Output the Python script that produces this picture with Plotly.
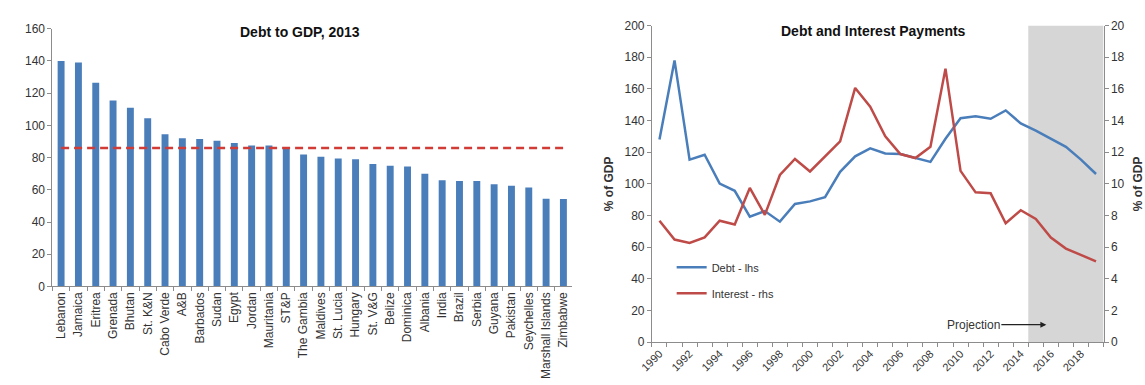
import plotly.graph_objects as go

# ---- Left panel: debt to GDP by country, 2013 ----
countries = ["Lebanon", "Jamaica", "Eritrea", "Grenada", "Bhutan", "St. K&N", "Cabo Verde",
             "A&B", "Barbados", "Sudan", "Egypt", "Jordan", "Mauritania", "ST&P",
             "The Gambia", "Maldives", "St. Lucia", "Hungary", "St. V&G", "Belize",
             "Dominica", "Albania", "India", "Brazil", "Serbia", "Guyana", "Pakistan",
             "Seychelles", "Marshall Islands", "Zimbabwe"]
debt_2013 = [140, 139, 126.5, 115.5, 111, 104.5, 94.5, 92, 91.5, 90.5, 89, 87.5, 87.5, 85.5,
             82, 80.5, 79.5, 79, 76, 75, 74.5, 70, 66, 65.5, 65.5, 63.5, 62.5, 61.5, 54.5, 54.3]
reference_level = 86

# ---- Right panel: debt and interest payments over time ----
years = [1990, 1991, 1992, 1993, 1994, 1995, 1996, 1997, 1998, 1999,
         2000, 2001, 2002, 2003, 2004, 2005, 2006, 2007, 2008, 2009,
         2010, 2011, 2012, 2013, 2014, 2015, 2016, 2017, 2018, 2019]
debt_lhs = [128, 178, 115.3, 118.4, 100.1, 95.6, 79.2, 82.8, 76.1, 87.3,
            88.9, 91.6, 107.6, 117.4, 122.4, 119.2, 118.8, 116.3, 113.9, 128.5,
            141.5, 142.7, 141.1, 146.4, 138.2, 133.6, 128.5, 123.4, 115.3, 106.2]
interest_rhs = [7.67, 6.48, 6.27, 6.62, 7.67, 7.43, 9.74, 8.04, 10.56, 11.57,
                10.78, 11.74, 12.69, 16.06, 14.88, 13.01, 11.88, 11.63, 12.34, 17.28,
                10.82, 9.46, 9.40, 7.51, 8.33, 7.78, 6.60, 5.91, 5.50, 5.10]
projection_start = 2014.5
year_ticks = [1990, 1992, 1994, 1996, 1998, 2000, 2002, 2004, 2006, 2008,
              2010, 2012, 2014, 2016, 2018]

W, H = 1145, 385
FONT = "Liberation Sans, Arial, sans-serif"
BLUE = "#4A7EBB"
RED = "#BE4B48"
AXIS = "#8C8C8C"
TXT = "#333333"


def px_x(p):
    return p / W


def px_y(p):
    return 1 - p / H


fig = go.Figure()

fig.add_trace(go.Bar(
    x=countries, y=debt_2013, marker=dict(color=BLUE, line=dict(width=0)),
    width=0.4, xaxis="x", yaxis="y", showlegend=False,
))
fig.add_trace(go.Scatter(
    x=countries, y=[reference_level] * len(countries), mode="lines",
    line=dict(color="#D23C36", width=2.5, dash="8px,5px"),
    xaxis="x", yaxis="y", showlegend=False, hoverinfo="skip",
))

fig.add_trace(go.Scatter(
    x=years, y=debt_lhs, mode="lines", name="Debt - lhs",
    line=dict(color=BLUE, width=2.5), xaxis="x2", yaxis="y2",
    legendgroup="debt",
))
fig.add_trace(go.Scatter(
    x=years, y=interest_rhs, mode="lines", name="Interest - rhs",
    line=dict(color=RED, width=2.5), xaxis="x2", yaxis="y3",
    legendgroup="interest",
))

tick_font = dict(family=FONT, size=12, color=TXT)
title_font = dict(family=FONT, size=14, color="#111111")
axis_title_font = dict(family=FONT, size=12, color=TXT)

fig.update_layout(
    width=W, height=H,
    margin=dict(l=0, r=0, t=0, b=0),
    paper_bgcolor="white", plot_bgcolor="rgba(0,0,0,0)",
    font=dict(family=FONT, size=11, color=TXT),
    bargap=0.6,
    xaxis=dict(
        domain=[px_x(40), px_x(567)], type="category",
        showline=True, linecolor=AXIS, linewidth=1,
        ticks="outside", tickson="boundaries", ticklen=4, tickcolor=AXIS,
        tickangle=-90, tickfont=tick_font, showgrid=False, zeroline=False,
        anchor="y",
    ),
    yaxis=dict(
        domain=[px_y(290), px_y(22.6)], range=[0, 160], dtick=20,
        showline=True, linecolor=AXIS, linewidth=1,
        ticks="outside", ticklen=4, tickcolor=AXIS, tickfont=tick_font,
        showgrid=False, zeroline=False, anchor="x",
    ),
    xaxis2=dict(
        domain=[px_x(648), px_x(1106)], range=[1989.5, 2019.5],
        tickmode="array", tickvals=year_ticks, ticktext=[str(y) for y in year_ticks],
        tickangle=-45, tickfont=dict(family=FONT, size=11, color=TXT),
        showline=True, linecolor=AXIS, linewidth=1, ticks="",
        minor=dict(tickmode="linear", tick0=1989.5, dtick=1, ticks="outside",
                   ticklen=4, tickcolor=AXIS, showgrid=False),
        showgrid=False, zeroline=False, anchor="y2",
    ),
    yaxis2=dict(
        domain=[px_y(347.7), px_y(19.3)], range=[0, 200], dtick=20,
        showline=True, linecolor=AXIS, linewidth=1,
        ticks="outside", ticklen=4, tickcolor=AXIS, tickfont=tick_font,
        showgrid=False, zeroline=False, anchor="x2",
        title=dict(text="<b>% of GDP</b>", font=axis_title_font, standoff=8),
    ),
    yaxis3=dict(
        range=[0, 20], dtick=2, overlaying="y2", side="right", anchor="x2",
        showline=True, linecolor=AXIS, linewidth=1,
        ticks="outside", ticklen=4, tickcolor=AXIS, tickfont=tick_font,
        showgrid=False, zeroline=False,
        title=dict(text="<b>% of GDP</b>", font=axis_title_font, standoff=12),
    ),
    legend=dict(
        x=px_x(668), y=px_y(255), xanchor="left", yanchor="top",
        bgcolor="rgba(0,0,0,0)", font=dict(family=FONT, size=11, color=TXT),
        tracegroupgap=7, itemwidth=30,
    ),
    shapes=[dict(
        type="rect", xref="x2", yref="y2", x0=projection_start, x1=2019.5,
        y0=0, y1=200, fillcolor="#D6D6D6", line=dict(width=0), layer="below",
    )],
    annotations=[
        dict(text="<b>Debt to GDP, 2013</b>", x=px_x(291), y=px_y(26),
             xref="paper", yref="paper", xanchor="center", yanchor="middle",
             showarrow=False, font=title_font),
        dict(text="<b>Debt and Interest Payments</b>", x=px_x(873), y=px_y(25),
             xref="paper", yref="paper", xanchor="center", yanchor="middle",
             showarrow=False, font=title_font),
        dict(text="Projection", xref="x2", yref="y3", x=2015.7, y=1.1,
             ax=-73, ay=0, axref="pixel", ayref="pixel", showarrow=True,
             arrowhead=2, arrowsize=1, arrowwidth=1.2, arrowcolor="#222222",
             font=dict(family=FONT, size=12, color=TXT)),
    ],
)

fig.write_html("out.html")
